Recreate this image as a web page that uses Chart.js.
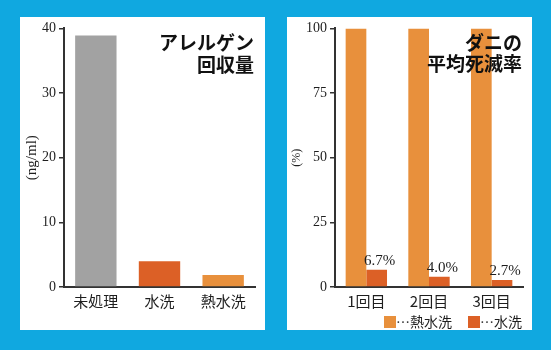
<!DOCTYPE html>
<html>
<head>
<meta charset="utf-8">
<script src="https://cdn.jsdelivr.net/npm/chart.js@4.4.1/dist/chart.umd.min.js"></script>
<style>
  html, body { margin: 0; padding: 0; background: #10a8e0; }
  body { width: 551px; height: 350px; position: relative; overflow: hidden; }
  .panel { position: absolute; top: 17px; width: 245px; height: 313px; background: #fff; }
  #p1 { left: 20px; }
  #p2 { left: 287px; }
</style>
</head>
<body>
<div class="panel" id="p1"><canvas id="allergenChart" width="245" height="313"></canvas></div>
<div class="panel" id="p2"><canvas id="miteChart" width="245" height="313"></canvas></div>
<script>
// アレルゲン回収量 (ng/ml)
const allergenLabels = ['未処理', '水洗', '熱水洗'];
const allergenValues = [38.9, 4.0, 1.85];
const allergenColors = ['#a2a2a2', '#dc6026', '#e8903c'];
const allergenTicks = [0, 10, 20, 30, 40];

// ダニの平均死滅率 (%)
const rounds = ['1回目', '2回目', '3回目'];
const hotWashRate = [100, 100, 100];
const waterWashRate = [6.7, 4.0, 2.7];
const rateTicks = [0, 25, 50, 75, 100];

const SERIF = "'Liberation Serif', 'DejaVu Serif', serif";
const JP = "'Noto Sans CJK JP', sans-serif";
const INK = '#1e1e1e';

// 右上の見出し（2行、右寄せ）
const cornerTitle = {
  id: 'cornerTitle',
  afterDraw(chart, args, opts) {
    const ctx = chart.ctx;
    ctx.save();
    ctx.font = 'bold 19px ' + JP;
    ctx.fillStyle = '#111';
    ctx.textAlign = 'right';
    ctx.textBaseline = 'middle';
    opts.lines.forEach((line, i) => {
      ctx.fillText(line, opts.right, opts.top + i * opts.lineGap);
    });
    ctx.restore();
  }
};

// 水洗の棒の上に値を表示
const valueLabels = {
  id: 'valueLabels',
  afterDatasetsDraw(chart, args, opts) {
    if (!opts.display) return;
    const ctx = chart.ctx;
    const ds = chart.data.datasets[opts.datasetIndex];
    const meta = chart.getDatasetMeta(opts.datasetIndex);
    ctx.save();
    ctx.font = '15px ' + SERIF;
    ctx.fillStyle = INK;
    ctx.textAlign = 'center';
    ctx.textBaseline = 'bottom';
    meta.data.forEach((bar, i) => {
      ctx.fillText(ds.data[i].toFixed(1) + '%', bar.x + 3, bar.y - 1);
    });
    ctx.restore();
  }
};

// 凡例（右下、四角＋「…名前」）
const footLegend = {
  id: 'footLegend',
  afterDraw(chart, args, opts) {
    if (!opts.display) return;
    const ctx = chart.ctx;
    const sets = chart.data.datasets;
    ctx.save();
    ctx.font = '14px ' + JP;
    ctx.textBaseline = 'middle';
    ctx.textAlign = 'left';
    const widths = sets.map(d => opts.box + ctx.measureText(d.label).width);
    const total = widths.reduce((a, b) => a + b, 0) + opts.gap * (sets.length - 1);
    let x = opts.right - total;
    sets.forEach((d, i) => {
      ctx.fillStyle = d.backgroundColor;
      ctx.fillRect(x, opts.y - opts.box / 2, opts.box, opts.box);
      ctx.fillStyle = INK;
      ctx.fillText(d.label, x + opts.box, opts.y);
      x += widths[i] + opts.gap;
    });
    ctx.restore();
  }
};

function yScale(max, ticks, title, titleSize, width) {
  return {
    min: 0,
    max: max,
    afterBuildTicks: s => { s.ticks = ticks.map(v => ({ value: v })); },
    afterFit: s => { s.width = width; },
    grid: { display: true, drawOnChartArea: false, drawTicks: true, tickLength: 5, color: '#333', lineWidth: 1.5 },
    border: { display: true, color: '#333', width: 2 },
    ticks: { color: INK, font: { family: SERIF, size: 14 }, padding: 3 },
    title: { display: true, text: title, color: INK, font: { family: SERIF, size: titleSize }, padding: { top: 3, bottom: 0 } }
  };
}

function xScale(height) {
  return {
    afterFit: s => { s.height = height; },
    grid: { display: false, drawTicks: false },
    border: { display: true, color: '#333', width: 2 },
    ticks: { color: INK, font: { family: JP, size: 15 }, padding: 5 }
  };
}

new Chart(document.getElementById('allergenChart'), {
  type: 'bar',
  data: {
    labels: allergenLabels,
    datasets: [{
      data: allergenValues,
      backgroundColor: allergenColors,
      barPercentage: 0.65,
      categoryPercentage: 1
    }]
  },
  options: {
    responsive: false,
    animation: false,
    layout: { padding: { top: 10, right: 10, left: 0, bottom: 0 } },
    scales: {
      x: xScale(43),
      y: yScale(40, allergenTicks, '(ng/ml)', 15, 44)
    },
    plugins: {
      legend: { display: false },
      tooltip: { enabled: false },
      cornerTitle: { lines: ['アレルゲン', '回収量'], right: 234, top: 26, lineGap: 22 },
      valueLabels: { display: false },
      footLegend: { display: false }
    }
  },
  plugins: [cornerTitle, valueLabels, footLegend]
});

new Chart(document.getElementById('miteChart'), {
  type: 'bar',
  data: {
    labels: rounds,
    datasets: [
      { label: '…熱水洗', data: hotWashRate, backgroundColor: '#e8903c', barPercentage: 1, categoryPercentage: 0.66 },
      { label: '…水洗', data: waterWashRate, backgroundColor: '#dc6026', barPercentage: 1, categoryPercentage: 0.66 }
    ]
  },
  options: {
    responsive: false,
    animation: false,
    layout: { padding: { top: 10, right: 9, left: 0, bottom: 0 } },
    scales: {
      x: xScale(43),
      y: yScale(100, rateTicks, '(%)', 12, 48)
    },
    plugins: {
      legend: { display: false },
      tooltip: { enabled: false },
      cornerTitle: { lines: ['ダニの', '平均死滅率'], right: 235, top: 26, lineGap: 21 },
      valueLabels: { display: true, datasetIndex: 1 },
      footLegend: { display: true, right: 235, y: 305, box: 12, gap: 16 }
    }
  },
  plugins: [cornerTitle, valueLabels, footLegend]
});
</script>
</body>
</html>
